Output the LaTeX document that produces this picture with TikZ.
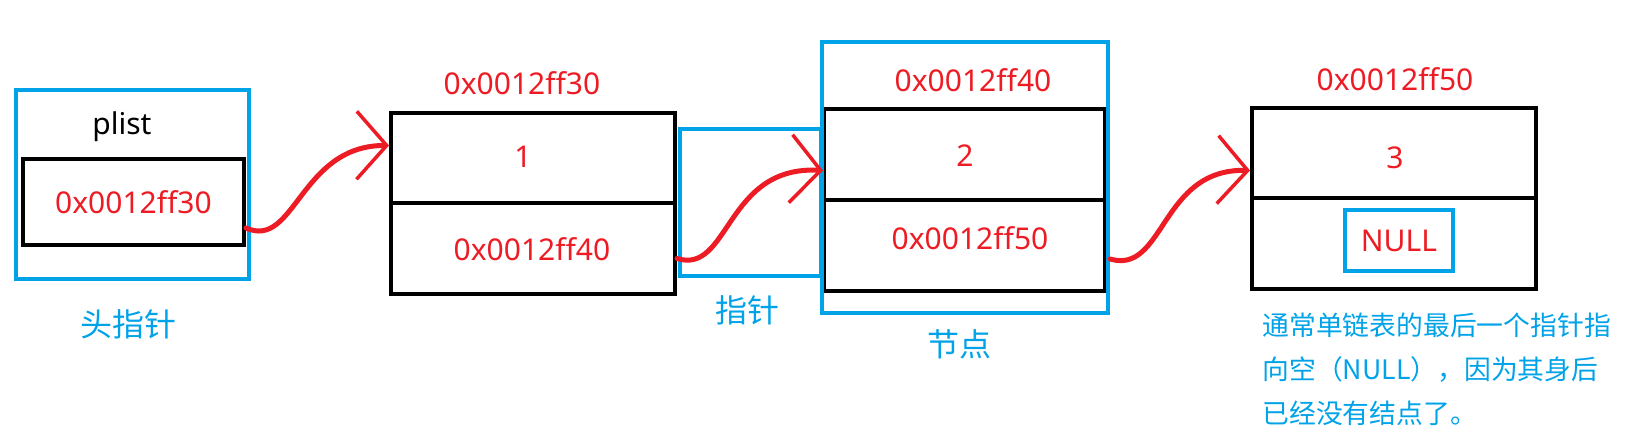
\documentclass[tikz,border=0pt]{standalone}
\usepackage{fontspec}
\setmainfont{Noto Sans}
\newfontfamily\cjk{Noto Sans CJK SC}
\usetikzlibrary{arrows.meta}
\begin{document}
\begin{tikzpicture}[x=0.5pt, y=-0.5pt]
% Linked list sketch, coordinates in screen pixels (1px = 0.5pt)
\definecolor{llRed}{RGB}{237,28,36}
\definecolor{llBlue}{RGB}{0,162,232}
\providecommand{\llBoxLineWidth}{2pt}
\providecommand{\llLinkLineWidth}{2.5pt}
\tikzset{
  blackbox/.style={draw=black, line width=\llBoxLineWidth, inner sep=0pt},
  bluebox/.style={draw=llBlue, line width=\llBoxLineWidth, inner sep=0pt},
  redtext/.style={text=llRed, font=\fontsize{15pt}{18pt}\selectfont, inner sep=0pt},
  bluetext/.style={text=llBlue, font=\cjk\fontsize{16pt}{19pt}\selectfont, inner sep=0pt},
  link/.style={draw=llRed, line width=\llLinkLineWidth, line cap=round,
    -{Straight Barb[length=15pt, width=34pt, line width=1.75pt]}}
}
\useasboundingbox (0,0) rectangle (1635,437);
% Head pointer
\node[bluebox, minimum width=116.5pt, minimum height=94.5pt] (head) at (132.5,184.5) {};
\node[blackbox, redtext, minimum width=110.5pt, minimum height=43pt] (headval) at (133.5,202) {0x0012ff30};
\node[inner sep=0pt, font=\fontsize{15pt}{18pt}\selectfont] (plist) at (122,127) {plist};
\node[bluetext] (headlbl) at (128,324) {头指针};
% First node
\node[blackbox, minimum width=142pt, minimum height=90.5pt] (n1) at (533,203.5) {};
\draw[line width=\llBoxLineWidth] (n1.west) -- (n1.east);
\node[redtext] (n1addr) at (522,83) {0x0012ff30};
\node[redtext] (n1data) at (523,157) {1};
\node[redtext] (n1next) at (532,249) {0x0012ff40};
% Pointer between the nodes
\node[bluebox, minimum width=70.5pt, minimum height=73.5pt] (ptr) at (750.5,202.5) {};
\node[bluetext] (ptrlbl) at (747,310) {指针};
% Second node
\node[blackbox, minimum width=140.5pt, minimum height=91pt] (n2) at (964.5,200) {};
\draw[line width=\llBoxLineWidth] (n2.west) -- (n2.east);
\node[bluebox, minimum width=143pt, minimum height=135.5pt] (n2frame) at (965,177.5) {};
\node[redtext] (n2addr) at (973,80) {0x0012ff40};
\node[redtext] (n2data) at (965,156) {2};
\node[redtext] (n2next) at (970,238) {0x0012ff50};
\node[bluetext] (n2lbl) at (959,344) {节点};
% Last node
\node[blackbox, minimum width=142pt, minimum height=90.5pt] (n3) at (1394,198.5) {};
\draw[line width=\llBoxLineWidth] (n3.west) -- (n3.east);
\node[redtext] (n3addr) at (1395,79) {0x0012ff50};
\node[redtext] (n3data) at (1395,158) {3};
\node[bluebox, redtext, minimum width=54pt, minimum height=30.5pt] (null) at (1399,240.5) {NULL};
\node[text=llBlue, font=\cjk\fontsize{13.4pt}{22pt}\selectfont, text width=200pt, align=left,
  anchor=north west, inner sep=0pt] (note) at (1262,312)
  {通常单链表的最后一个指针指\\向空（NULL），因为其身后\\已经没有结点了。};
% Links
\draw[link] ([yshift=-13pt]headval.east) .. controls (295,250) and (300,145) .. ([yshift=29pt]n1.west);
\draw[link] ([yshift=-27.5pt]n1.east) .. controls (730,275) and (725,165) .. ([yshift=16pt]ptr.east);
\draw[link] ([yshift=-40.75pt]n2frame.east) .. controls (1165,275) and (1160,168) .. ([yshift=14pt]n3.west);
\end{tikzpicture}
\end{document}
